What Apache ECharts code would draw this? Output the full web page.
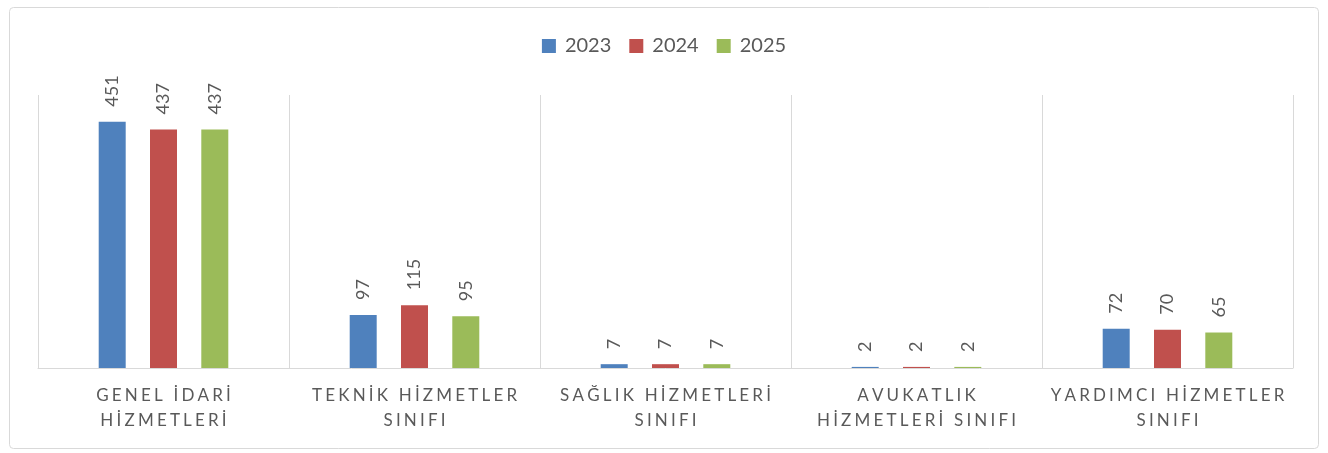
<!DOCTYPE html>
<html><head><meta charset="utf-8">
<script src="https://cdn.jsdelivr.net/npm/echarts@6/dist/echarts.min.js"></script>
<style>html,body{margin:0;padding:0;background:#fff;}#c{width:1328px;height:453px;}</style>
</head><body><div id="c"></div>
<script>
const categories = ["GENEL İDARİ\nHİZMETLERİ", "TEKNİK HİZMETLER\nSINIFI", "SAĞLIK HİZMETLERİ\nSINIFI", "AVUKATLIK\nHİZMETLERİ SINIFI", "YARDIMCI HİZMETLER\nSINIFI"];
const seriesNames = ["2023", "2024", "2025"];
const values2023 = [451, 97, 7, 2, 72];
const values2024 = [437, 115, 7, 2, 70];
const values2025 = [437, 95, 7, 2, 65];
const colors = ["#4F81BD", "#C0504D", "#9BBB59"];
const FONT = "Lato";
function spaced(s){ return s.split("\n").map(l => Array.from(l).join("\u2009\u200A")).join("\n"); }
const chart = echarts.init(document.getElementById('c'), null, {renderer:'canvas'});
const data = [values2023, values2024, values2025];
chart.setOption({
  animation:false,
  textStyle:{fontFamily:FONT},
  graphic:[{type:'rect', shape:{x:9.5,y:7.5,width:1309,height:441,r:4}, style:{fill:'none', stroke:'#d9d9d9', lineWidth:1}, z:-1}],
  legend:{top:31, left:'center', itemWidth:14, itemHeight:14, itemGap:18, icon:'rect',
    textStyle:{fontSize:20, color:'#595959', fontFamily:FONT, padding:[0,0,0,4]}, data:seriesNames},
  grid:{left:38, right:35, top:95, bottom:85, containLabel:false},
  xAxis:{type:'category', data:categories,
    axisLine:{lineStyle:{color:'#d9d9d9', width:1}}, axisTick:{show:false},
    splitLine:{show:true, lineStyle:{color:'#d9d9d9', width:1}},
    axisLabel:{color:'#595959', fontSize:17, lineHeight:25, margin:15, interval:0, formatter:v=>spaced(v)}},
  yAxis:{type:'value', min:0, max:500, show:false, splitLine:{show:false}},
  series: seriesNames.map((n,i)=>({name:n, type:'bar', data:data[i], barWidth:27, barGap:'90%',
    itemStyle:{color:colors[i]},
    label:{show:true, position:'top', rotate:90, align:'left', verticalAlign:'middle', distance:15,
      color:'#595959', fontSize:18, fontFamily:FONT}}))
});
</script></body></html>
